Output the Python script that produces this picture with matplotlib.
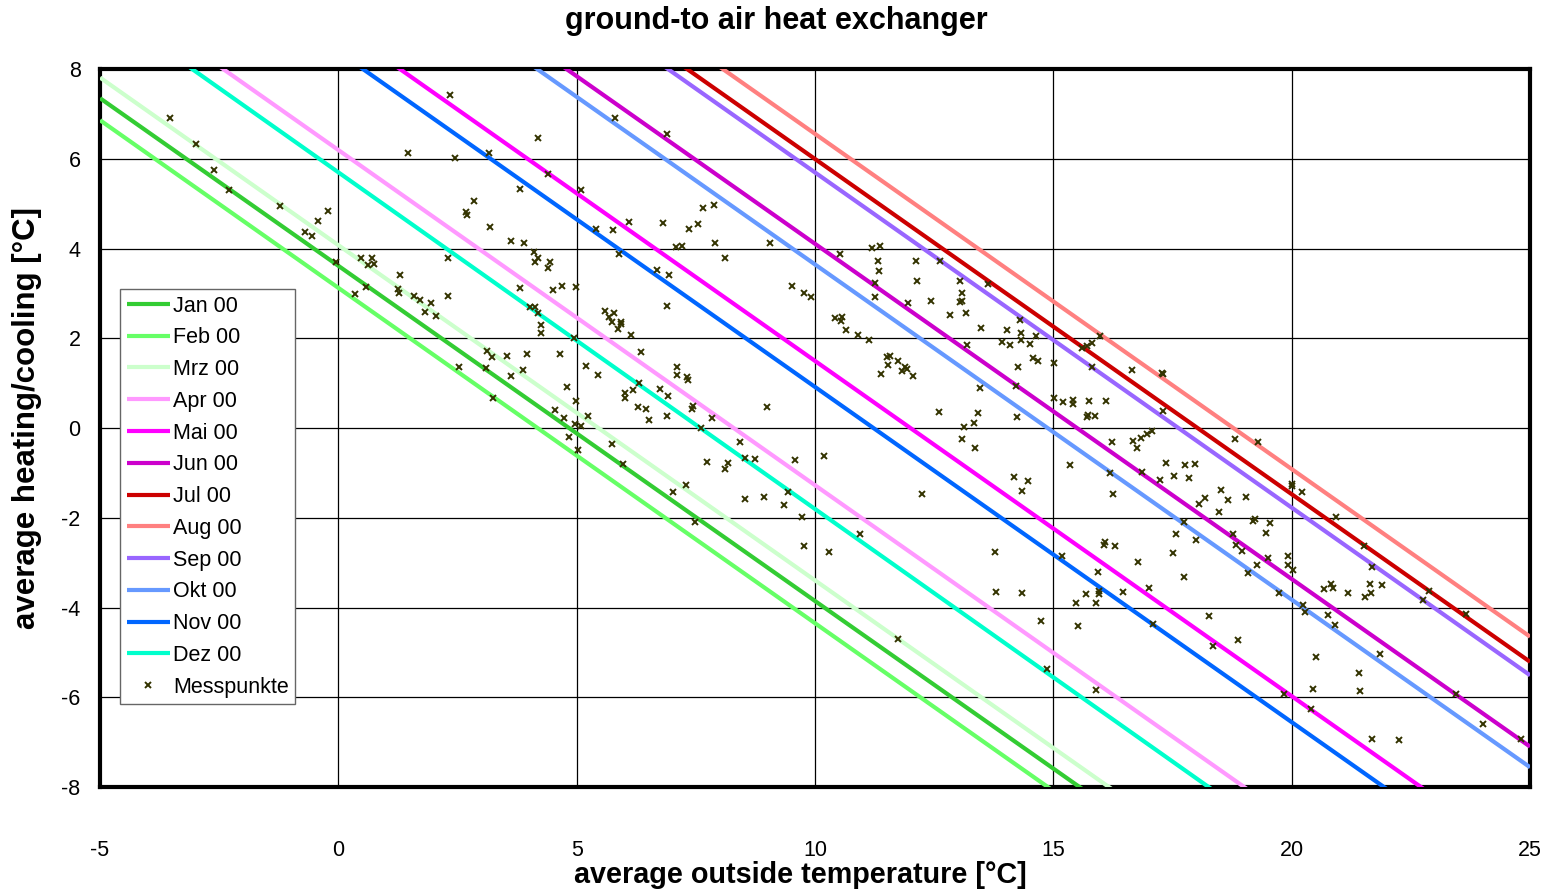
import matplotlib
matplotlib.use('Agg')
from matplotlib import pyplot as plt

plt.rcParams['font.family'] = ['Liberation Sans', 'DejaVu Sans']
plt.rcParams['axes.unicode_minus'] = False

months = ['Jan 00', 'Feb 00', 'Mrz 00', 'Apr 00', 'Mai 00', 'Jun 00',
          'Jul 00', 'Aug 00', 'Sep 00', 'Okt 00', 'Nov 00', 'Dez 00']
month_colors = ['#33cc33', '#66ff66', '#ccffcc', '#ff99ff', '#ff00ff', '#cc00cc',
                '#cc0000', '#ff8080', '#9966ff', '#6699ff', '#0066ff', '#00ffcc']

# heating/cooling of each month line at -5 °C and at 25 °C outside temperature
line_temp = [-5, 25]
line_left = [7.35, 6.86, 7.81, 9.93, 12.70, 15.31, 17.20, 17.76, 16.90, 14.85, 12.12, 9.45]
line_right = [-15.06, -15.56, -14.60, -12.48, -9.71, -7.10, -5.21, -4.65, -5.51, -7.56, -10.29, -13.06]

# Messpunkte: average outside temperature [°C]
mess_temp = [
    -3.53, -2.99, -2.61, -2.29, -1.22, -0.22, -0.42, -0.71, -0.56, -0.04, 0.48, 0.70,
    0.62, 0.74, 2.30, 1.29, 0.58, 1.25, 1.27, 1.58, 1.71, 1.94, 0.34, 2.30,
    2.34, 1.47, 2.45,
    5.80, 6.89, 4.19, 3.15, 4.39, 3.81, 5.08, 2.84, 2.68, 2.69, 3.17, 5.41,
    5.76, 6.09, 6.82, 7.65, 7.89, 7.36, 7.54, 3.63, 3.90, 7.08, 7.20, 7.91,
    9.06, 4.10, 4.19, 4.13, 4.43, 4.40, 5.88, 8.10, 6.69, 6.93, 3.81, 4.51,
    4.69, 4.99, 9.52, 9.76, 9.92,
    10.52, 11.20, 11.36, 11.32, 11.34, 12.11, 12.62, 11.26, 12.14, 13.04, 13.63, 13.08,
    11.26, 11.94, 12.43, 13.04, 13.09,
    1.82, 2.05, 2.52,
    4.01, 4.12, 4.18, 4.26, 4.26, 4.94, 5.60, 5.79, 5.68, 5.74, 5.92, 5.92,
    5.86, 6.13, 6.89, 6.34, 3.12, 3.22, 3.53, 3.95, 4.64, 3.10, 3.62, 3.87,
    5.20, 5.44, 7.10, 7.10, 7.32, 7.33, 6.30, 6.18, 6.01, 6.01, 6.74, 6.92,
    4.80, 4.99, 3.24, 4.54, 4.74, 5.24, 4.96, 5.08, 4.83, 5.02, 6.28, 6.45,
    6.52, 6.90, 7.43, 7.41, 7.83, 7.61, 9.00, 5.75, 5.98, 8.43, 8.52, 8.75,
    9.57, 7.74, 8.18, 8.10, 7.29, 7.01, 8.53, 8.92, 9.44, 9.35, 9.72, 7.49,
    10.42, 10.57, 10.54, 10.64, 10.90, 11.13, 12.83, 13.16, 13.49, 14.30, 14.03, 14.31,
    14.63, 13.92, 14.08, 14.31, 14.51, 13.18, 14.58, 14.68, 15.01, 14.26, 14.22, 13.47,
    15.59, 15.70, 15.80, 15.98, 15.80, 16.64, 17.28, 17.30, 11.50, 11.57, 11.52, 11.73,
    11.82, 11.89, 11.92, 12.05, 11.38, 15.01, 15.20, 15.42, 15.42, 15.74, 16.10, 15.72,
    15.70, 15.87, 17.29, 12.61, 13.41, 13.33, 13.13, 13.09, 13.35, 14.23, 16.23, 16.68,
    16.76, 16.84, 16.96, 17.06, 10.19, 15.34, 16.19, 16.86, 17.36, 17.23, 17.53, 14.18,
    14.47, 14.35, 16.24, 12.24, 10.95, 17.57,
    18.81, 19.29, 17.77, 17.96, 17.84, 18.52, 18.18, 18.06, 18.67, 19.04, 18.48, 20.01,
    20.01, 20.21, 20.92, 17.73, 19.18, 19.23, 19.54, 19.47, 18.76, 18.00,
    9.76,
    10.29, 13.77, 16.06, 16.08, 16.29, 17.50, 15.19, 16.77, 15.93, 13.79, 14.35, 15.68,
    15.96, 15.95, 16.47, 17.00, 15.47, 15.89, 14.73, 15.52, 17.08, 11.75, 14.86, 15.90,
    18.84, 18.96, 21.52, 19.51, 19.92, 19.92, 20.03, 19.27, 19.08, 17.73, 21.68, 19.73,
    20.68, 20.82, 20.86, 21.18, 21.64, 21.90, 21.67, 21.54, 22.88, 22.75, 23.65, 20.24,
    20.28, 20.75, 20.91, 18.26, 18.87, 18.35, 20.50, 21.85, 21.42, 21.43, 20.45, 19.84,
    20.41, 23.44, 24.02, 24.80, 21.69, 22.24,
]
# Messpunkte: average heating/cooling [°C]
mess_dt = [
    6.92, 6.32, 5.76, 5.30, 4.94, 4.84, 4.62, 4.38, 4.29, 3.70, 3.80, 3.78,
    3.63, 3.65, 3.80, 3.40, 3.14, 3.10, 3.01, 2.95, 2.85, 2.79, 2.98, 2.95,
    7.42, 6.14, 6.01,
    6.91, 6.55, 6.47, 6.12, 5.66, 5.32, 5.31, 5.06, 4.81, 4.75, 4.49, 4.43,
    4.41, 4.60, 4.57, 4.90, 4.96, 4.43, 4.54, 4.16, 4.12, 4.03, 4.06, 4.13,
    4.13, 3.92, 3.80, 3.69, 3.71, 3.57, 3.88, 3.80, 3.53, 3.40, 3.13, 3.08,
    3.17, 3.14, 3.16, 3.02, 2.91,
    3.88, 4.01, 4.06, 3.73, 3.50, 3.73, 3.73, 3.23, 3.28, 3.28, 3.21, 3.02,
    2.93, 2.79, 2.83, 2.81, 2.83,
    2.59, 2.50, 1.37,
    2.70, 2.69, 2.56, 2.30, 2.11, 2.01, 2.61, 2.57, 2.48, 2.36, 2.37, 2.32,
    2.21, 2.08, 2.73, 1.69, 1.71, 1.59, 1.61, 1.66, 1.66, 1.34, 1.16, 1.30,
    1.39, 1.19, 1.37, 1.19, 1.14, 1.06, 1.00, 0.85, 0.79, 0.68, 0.87, 0.71,
    0.92, 0.61, 0.68, 0.41, 0.23, 0.27, 0.09, 0.04, -0.19, -0.49, 0.46, 0.42,
    0.18, 0.27, 0.50, 0.42, 0.22, -0.01, 0.46, -0.36, -0.80, -0.31, -0.67, -0.69,
    -0.71, -0.75, -0.77, -0.92, -1.26, -1.43, -1.58, -1.53, -1.43, -1.71, -1.98, -2.09,
    2.46, 2.47, 2.38, 2.18, 2.08, 1.97, 2.53, 2.57, 2.24, 2.41, 2.18, 2.12,
    2.05, 1.91, 1.85, 1.96, 1.87, 1.84, 1.55, 1.50, 1.46, 1.37, 0.94, 0.90,
    1.79, 1.83, 1.89, 2.06, 1.36, 1.30, 1.22, 1.20, 1.58, 1.60, 1.41, 1.50,
    1.27, 1.35, 1.31, 1.17, 1.21, 0.68, 0.59, 0.63, 0.53, 0.61, 0.60, 0.28,
    0.24, 0.27, 0.39, 0.36, 0.33, 0.12, 0.03, -0.25, -0.45, 0.24, -0.31, -0.28,
    -0.45, -0.22, -0.13, -0.07, -0.62, -0.83, -1.00, -0.99, -0.78, -1.15, -1.07, -1.10,
    -1.18, -1.40, -1.48, -1.46, -2.37, -2.36,
    -0.24, -0.31, -0.83, -0.80, -1.11, -1.39, -1.57, -1.69, -1.60, -1.54, -1.88, -1.24,
    -1.30, -1.43, -1.98, -2.09, -2.07, -2.02, -2.11, -2.35, -2.36, -2.50,
    -2.62,
    -2.76, -2.76, -2.61, -2.53, -2.62, -2.79, -2.85, -2.99, -3.20, -3.65, -3.67, -3.70,
    -3.63, -3.69, -3.65, -3.57, -3.89, -3.90, -4.31, -4.41, -4.37, -4.70, -5.36, -5.83,
    -2.61, -2.73, -2.63, -2.90, -2.85, -3.05, -3.16, -3.05, -3.24, -3.32, -3.10, -3.67,
    -3.59, -3.47, -3.56, -3.67, -3.48, -3.49, -3.67, -3.77, -3.63, -3.84, -4.14, -3.94,
    -4.09, -4.16, -4.39, -4.18, -4.72, -4.86, -5.11, -5.03, -5.45, -5.85, -5.82, -5.92,
    -6.26, -5.92, -6.60, -6.93, -6.92, -6.95,
]

x_ticks = [-5, 0, 5, 10, 15, 20, 25]
y_ticks = [-8, -6, -4, -2, 0, 2, 4, 6, 8]

fig = plt.figure(figsize=(15.61, 8.9), dpi=100)
ax = fig.add_axes([0.0641, 0.1157, 0.9161, 0.8067])

for name, color, left, right in zip(months, month_colors, line_left, line_right):
    ax.plot(line_temp, [left, right], color=color, lw=3, label=name,
            solid_capstyle='butt', zorder=3)

ax.plot(mess_temp, mess_dt, ls='none', marker='x', ms=4, mew=1.4,
        color='#333300', label='Messpunkte', zorder=4)

ax.set_xlim(-5, 25)
ax.set_ylim(-8, 8)
ax.set_xticks(x_ticks)
ax.set_yticks(y_ticks)
ax.tick_params(axis='both', length=0, labelsize=15.5)
ax.tick_params(axis='x', pad=38)
ax.tick_params(axis='y', pad=14)
ax.grid(True, color='black', lw=0.9, zorder=1)
ax.set_axisbelow(True)
for spine in ax.spines.values():
    spine.set_linewidth(3)
    spine.set_color('black')

fig.text(0.497, 1 - 21 / 890, 'ground-to air heat exchanger', ha='center',
         va='center', fontsize=22, fontweight='bold')
ax.set_xlabel('average outside temperature [°C]', fontsize=20.7,
              fontweight='bold', va='center')
ax.xaxis.set_label_coords(0.490, -0.1225)
ax.set_ylabel('average heating/cooling [°C]', fontsize=22.5,
              fontweight='bold', va='center')
ax.yaxis.set_label_coords(-0.051, 0.514)

leg = ax.legend(loc='upper left', bbox_to_anchor=(0.014, 0.6936),
                borderaxespad=0, fontsize=15.5, handlelength=2.0,
                handletextpad=0.15, labelspacing=0.5, borderpad=0.3,
                fancybox=False, framealpha=1, edgecolor='#666666')
leg.get_frame().set_linewidth(1)

fig.savefig('out.png', dpi=100)
